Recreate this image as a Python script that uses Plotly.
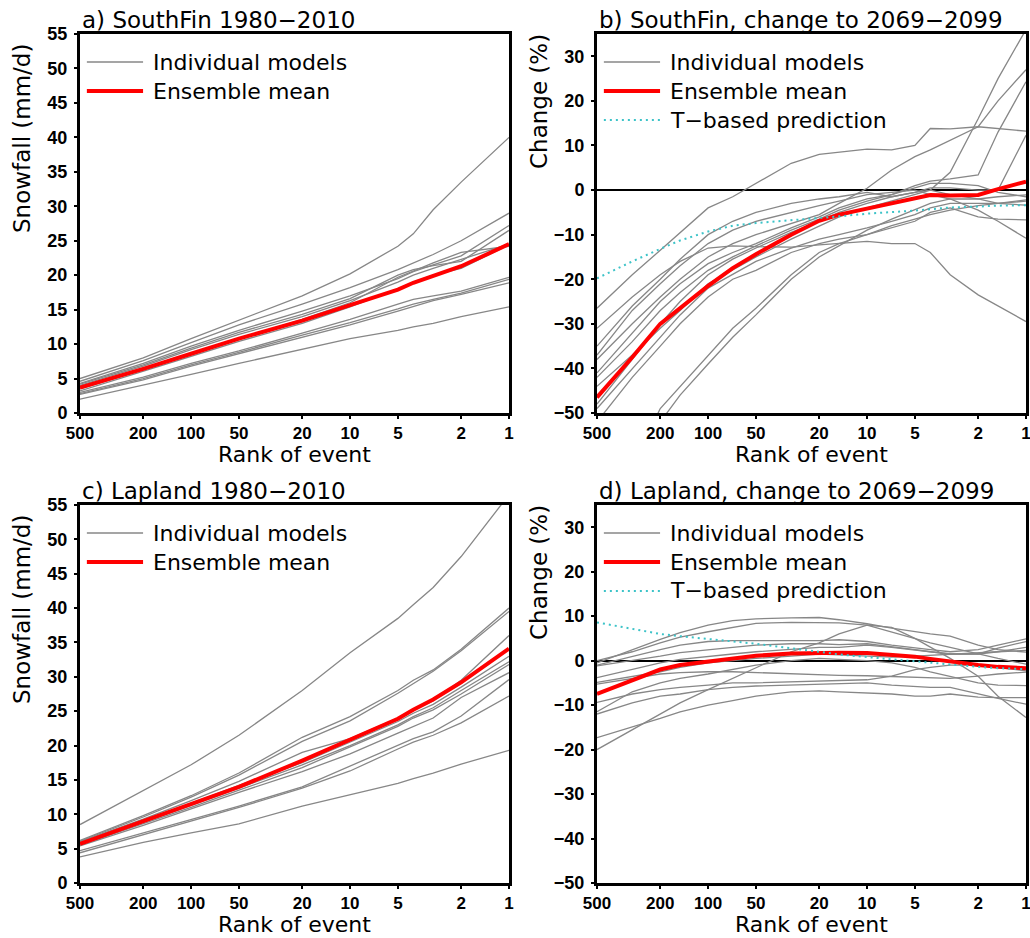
import plotly.graph_objects as go
import math

# ---------------- data ----------------
rank_base = [500, 200, 100, 50, 20, 10, 5, 4, 3, 2, 1]

southfin_models = [
    [5.0, 8.0, 10.8, 13.5, 17.0, 20.2, 24.2, 26.0, 29.5, 33.5, 40.0],
    [4.6, 7.6, 10.2, 12.8, 15.8, 18.2, 20.8, 21.8, 23.0, 25.0, 29.0],
    [4.3, 7.2, 9.7, 12.0, 14.8, 17.0, 19.5, 20.5, 21.5, 22.8, 27.2],
    [4.2, 7.0, 9.4, 11.7, 14.3, 16.6, 20.0, 20.8, 21.4, 22.0, 26.5],
    [4.0, 6.8, 9.2, 11.4, 14.0, 16.3, 19.0, 20.0, 21.0, 22.3, 24.5],
    [3.5, 6.3, 8.6, 10.8, 13.6, 16.0, 19.7, 20.6, 21.8, 23.3, 24.2],
    [3.2, 6.0, 8.2, 10.4, 13.0, 15.4, 18.0, 19.0, 20.0, 21.0, 24.4],
    [3.0, 5.2, 7.2, 9.0, 11.6, 13.6, 15.8, 16.5, 17.0, 17.7, 19.7],
    [2.8, 5.0, 7.0, 8.8, 11.3, 13.1, 15.1, 15.8, 16.5, 17.4, 19.4],
    [2.7, 4.8, 6.8, 8.6, 11.0, 12.8, 14.8, 15.5, 16.3, 17.2, 18.9],
    [2.0, 4.0, 5.6, 7.2, 9.2, 10.8, 12.0, 12.5, 13.0, 14.0, 15.4],
]
southfin_mean = [3.7, 6.4, 8.6, 10.8, 13.4, 15.7, 17.9, 18.9, 19.9, 21.3, 24.5]

lapland_models = [
    [8.5, 13.5, 17.2, 21.5, 28.0, 33.5, 38.5, 40.5, 43.0, 47.5, 56.5],
    [6.2, 9.8, 12.7, 16.0, 21.2, 24.2, 28.0, 29.5, 31.0, 34.0, 40.0],
    [6.1, 9.6, 12.5, 15.7, 20.6, 23.6, 27.6, 29.0, 30.8, 33.8, 39.5],
    [6.0, 9.3, 12.0, 14.8, 19.0, 21.0, 24.0, 25.2, 26.5, 29.5, 36.0],
    [5.8, 9.0, 11.6, 14.2, 17.5, 20.5, 23.5, 24.7, 26.0, 28.5, 33.0],
    [5.6, 8.8, 11.3, 13.8, 17.2, 20.0, 23.0, 24.2, 25.5, 28.0, 32.2],
    [5.5, 8.6, 11.0, 13.5, 16.8, 19.8, 22.8, 24.0, 25.2, 27.5, 31.8],
    [5.4, 8.4, 10.8, 13.2, 16.2, 18.8, 21.8, 22.8, 24.0, 27.0, 30.6],
    [4.7, 7.3, 9.2, 11.2, 14.0, 17.0, 20.0, 21.0, 22.0, 24.3, 29.6],
    [4.4, 7.0, 9.0, 11.0, 13.8, 16.3, 19.5, 20.5, 21.5, 23.3, 27.2],
    [3.8, 5.9, 7.3, 8.6, 11.2, 12.8, 14.5, 15.2, 16.0, 17.3, 19.3],
]
lapland_mean = [5.7, 9.0, 11.4, 14.0, 17.8, 20.8, 23.9, 25.2, 26.7, 29.2, 34.1]

rank_change = [500, 300, 200, 150, 100, 70, 50, 30, 20, 15, 10, 7, 5, 4, 3, 2, 1.5, 1]

southfin_change_models = [
    [-31, -24, -19, -16, -13, -12.5, -12.7, -12.8, -12.3, -12, -11.5, -12, -12, -14, -19, -23.5, -26, -29.5],
    [-26.5, -19, -13.5, -9.5, -4, -1.5, 1.5, 6, 8, 8.5, 9.2, 9.0, 10, 13.8, 13.7, 14.2, 13.8, 13.2],
    [-44, -37, -31, -27, -21, -18, -15, -11, -8, -6, -4, -2.5, -1, 0, 4, 16, 25, 36],
    [-38, -30, -24, -20, -15, -12, -10, -7.5, -5.5, -3, 0.4, 4.5, 7.5, 9, 11.2, 14.2, 20, 27],
    [-42, -34, -27, -23, -18, -15, -12.5, -9, -6.5, -4.5, -2.5, -1, 1, 2, 2.5, 3.4, 13, 24.3],
    [-48, -38, -30, -25, -19, -15.5, -13, -9.5, -7, -5, -3, -1.5, -0.5, 0.5, 0.5, 0, 0, 12.3],
    [-80, -62, -49, -44, -37, -31, -26.5, -19, -14, -12, -10, -8, -6.5, -5.5, -4.5, -3.5, -3, -2.2],
    [-85, -66, -52, -46, -39, -33, -28, -20, -15, -12.5, -9, -6.5, -4.5, -3, -2, -4.5, -7, -10.8],
    [-41, -32, -25, -21, -16.5, -14, -12, -8.5, -6, -4, -2, -1, 0.5, 1.5, 1.5, 1, -0.5, -1.5],
    [-37, -27, -21, -17, -12, -9, -7, -5, -3.5, -2.5, -1, -0.5, 0, -1, -2, -2, -1.5, -1.1],
    [-49, -40, -33, -28, -22, -19, -16, -13, -11, -10, -8.5, -7, -5.5, -4, -3, -3, -3, -3.4],
    [-52, -42, -35, -30, -24, -20, -18, -14, -12, -11, -10, -8.5, -7, -5, -4, -6, -6.5, -6.7],
    [-35, -26, -20, -15.5, -10, -7, -5, -3, -2, -1.5, -0.5, -1.5, -0.5, 0, -1, -2, -3, -2.5],
]
southfin_change_mean = [-46.5, -37.5, -30, -26.5, -21.5, -17.5, -14.4, -10, -6.9, -5.5, -4.2, -3,
                        -1.8, -1.1, -1.2, -1.1, 0.2, 1.9]
southfin_tpred = [-19.8, -16, -13.2, -11.3, -9.3, -8.0, -7.4, -6.8, -6.3, -5.9, -5.3, -5.0,
                  -4.6, -4.3, -3.9, -3.7, -3.5, -3.4]

lapland_change_models = [
    [-0.5, 2.5, 4.8, 6.3, 8, 9, 9.4, 9.6, 9.7, 9.2, 8.3, 7.3, 6.5, 6, 5.5, 3.5, 2.5, 1.9],
    [0, 2, 4, 5.3, 6.5, 7.5, 8.4, 8.6, 8.6, 8.5, 8, 6.5, 5, 4, 3, 1.5, 0.5, -0.8],
    [-1, 1, 2.5, 3.5, 4.3, 4.5, 4.5, 4.4, 4.5, 4.7, 4.3, 3.5, 3, 2.5, 2, 2.5, 3.5, 4.9],
    [-1.2, 0, 1, 1.8, 2.5, 3, 3.5, 3.8, 3.8, 3.6, 3.8, 3.2, 2.5, 2, 1.5, 1.5, 2.8, 4.3],
    [-3.8, -2, -0.5, 0.3, 1, 1.5, 2, 2.5, 3, 3, 3.5, 3, 2.5, 2, 1.5, 1.5, 2, 3],
    [-4.9, -3.5, -2.5, -1.5, -0.5, 0, 0.5, 1, 1.5, 1.3, 1, 0.8, 1, 1.2, 1.5, 1.8, 2, 2.3],
    [-5.3, -4, -3, -2.7, -2.5, -2.5, -2.7, -3, -3.2, -3.3, -3.4, -3.6, -3.8, -4, -4, -3.5, -3, -2.6],
    [-9.4, -7.5, -6.5, -6, -5.5, -5, -5, -4.8, -4.7, -4.5, -4.3, -3.5, -2, -1.5, -1, -1, -1.5, -2.3],
    [-12, -9.5, -8, -7.5, -6.5, -6, -5.7, -5.5, -5.4, -5.3, -5, -5.5, -5.8, -6, -6, -7.5, -8.5, -9.8],
    [-17.3, -15, -13, -11.5, -10, -9, -8, -7, -6.8, -7, -7.2, -7.5, -8, -8, -7.5, -8.2, -8.3, -8.3],
    [-20, -15.5, -12, -9.5, -6.5, -4, -1.5, 2, 4, 6, 8, 7.5, 5, 3, 0.5, -3.5, -8, -12.8],
    [-11.5, -7, -5, -4, -3, -2, -1, 0, 0.5, 0.3, 0, -0.5, -1.5, -2.5, -3.5, -5, -5.5, -5.6],
]
lapland_change_mean = [-7.5, -4.5, -2, -1, -0.2, 0.5, 1.1, 1.6, 1.8, 1.8, 1.7, 1.3, 0.9, 0.4,
                       -0.2, -1, -1.4, -1.7]
lapland_tpred = [8.6, 7.2, 6.0, 5.5, 4.9, 4.3, 3.8, 2.8, 1.9, 1.4, 0.8, 0.3, -0.2, -0.5,
                 -0.8, -1.4, -1.7, -1.9]

panel_titles = ["a) SouthFin 1980\u22122010",
                "b) SouthFin, change to 2069\u22122099",
                "c) Lapland 1980\u22122010",
                "d) Lapland, change to 2069\u22122099"]
x_tick_vals = [500, 200, 100, 50, 20, 10, 5, 2, 1]
x_tick_text = ["500", "200", "100", "50", "20", "10", "5", "2", "1"]

# ---------------- styling ----------------
W, H = 1030, 938
GRAY = "#878787"
RED = "#ff0000"
CYAN = "#3cc3c8"
TXT = "DejaVu Sans"

# panel pixel boxes: (left, right, top, bottom)
boxes = [(80, 509, 34, 413), (597, 1026, 34, 413),
         (80, 509, 505, 883), (597, 1026, 505, 883)]

fig = go.Figure()

def add_panel(i, ranks, models, mean, tpred=None):
    xa = "x" if i == 0 else f"x{i+1}"
    ya = "y" if i == 0 else f"y{i+1}"
    for m in models:
        fig.add_trace(go.Scatter(x=ranks, y=m, mode="lines", xaxis=xa, yaxis=ya,
                                 line=dict(color=GRAY, width=1.3), showlegend=False,
                                 hoverinfo="skip"))
    fig.add_trace(go.Scatter(x=ranks, y=mean, mode="lines", xaxis=xa, yaxis=ya,
                             line=dict(color=RED, width=4), showlegend=False,
                             hoverinfo="skip"))
    if tpred is not None:
        fig.add_trace(go.Scatter(x=ranks, y=tpred, mode="lines", xaxis=xa, yaxis=ya,
                                 line=dict(color=CYAN, width=2, dash="2px,4px"),
                                 showlegend=False, hoverinfo="skip"))

add_panel(0, rank_base, southfin_models, southfin_mean)
add_panel(1, rank_change, southfin_change_models, southfin_change_mean, southfin_tpred)
add_panel(2, rank_base, lapland_models, lapland_mean)
add_panel(3, rank_change, lapland_change_models, lapland_change_mean, lapland_tpred)

layout = dict(width=W, height=H, margin=dict(l=0, r=0, t=0, b=0, autoexpand=False),
              paper_bgcolor="white", plot_bgcolor="white", showlegend=False)

annotations = []
shapes = []
for i, (l, r, t, b) in enumerate(boxes):
    xk = "xaxis" if i == 0 else f"xaxis{i+1}"
    yk = "yaxis" if i == 0 else f"yaxis{i+1}"
    xs = "x" if i == 0 else f"x{i+1}"
    ys = "y" if i == 0 else f"y{i+1}"
    change = i in (1, 3)
    layout[xk] = dict(domain=[l / W, r / W], anchor=ys, type="log",
                      range=[math.log10(500), 0], tickvals=x_tick_vals, ticktext=x_tick_text,
                      showline=True, mirror=True, linecolor="black", linewidth=3,
                      ticks="outside", ticklen=3, tickwidth=2, tickcolor="black",
                      showgrid=False, zeroline=False, automargin=False,
                      ticklabeloverflow="allow", ticklabelstandoff=0,
                      tickfont=dict(family="Liberation Sans", size=17, color="black", weight="bold"))
    if change:
        yax = dict(range=[-50, 35], tickvals=[-50, -40, -30, -20, -10, 0, 10, 20, 30],
                   zeroline=True, zerolinecolor="black", zerolinewidth=2)
    else:
        yax = dict(range=[0, 55], tickvals=list(range(0, 56, 5)), zeroline=False)
    yax.update(domain=[1 - b / H, 1 - t / H], anchor=xs, automargin=False,
               showline=True, mirror=True, linecolor="black", linewidth=3,
               ticks="outside", ticklen=3, tickwidth=2, tickcolor="black",
               showgrid=False, ticklabelstandoff=3, ticklabeloverflow="allow",
               tickfont=dict(family="Liberation Sans", size=18, color="black", weight="bold"))
    layout[yk] = yax

    # panel title
    annotations.append(dict(text=panel_titles[i], xref="paper", yref="paper",
                            x=l / W, y=1 - (t - 14) / H, xanchor="left", yanchor="middle",
                            showarrow=False, font=dict(family=TXT, size=23, color="black")))
    # x axis title
    annotations.append(dict(text="Rank of event", xref="paper", yref="paper",
                            x=(l + r) / 2 / W, y=1 - (b + 41) / H, xanchor="center",
                            yanchor="middle", showarrow=False, borderpad=0,
                            font=dict(family=TXT, size=22, color="black")))
    # y axis title
    ytitle = "Change (%)" if change else "Snowfall (mm/d)"
    ycen = t + (68 if change else 105)
    annotations.append(dict(text=ytitle, xref="paper", yref="paper",
                            x=(l - 58) / W, y=1 - ycen / H, xanchor="center",
                            yanchor="middle", textangle=-90, showarrow=False,
                            font=dict(family=TXT, size=23, color="black")))
    # legend (drawn inside panel)
    entries = [("Individual models", dict(color=GRAY, width=1.5)),
               ("Ensemble mean", dict(color=RED, width=4))]
    if change:
        entries.append(("T\u2212based prediction", dict(color=CYAN, width=2, dash="2px,4px")))
    for k, (lab, ln) in enumerate(entries):
        yy = 1 - (28 + 29 * k) / (b - t)
        shapes.append(dict(type="line", xref=f"{xs} domain", yref=f"{ys} domain",
                           x0=0.016, x1=0.147, y0=yy, y1=yy, line=ln))
        annotations.append(dict(text=lab, xref=f"{xs} domain", yref=f"{ys} domain",
                                x=0.166, y=yy, xanchor="left", yanchor="middle",
                                showarrow=False,
                                font=dict(family=TXT, size=22, color="black")))

layout["annotations"] = annotations
layout["shapes"] = shapes
fig.update_layout(**layout)

fig.write_html("out.html")
